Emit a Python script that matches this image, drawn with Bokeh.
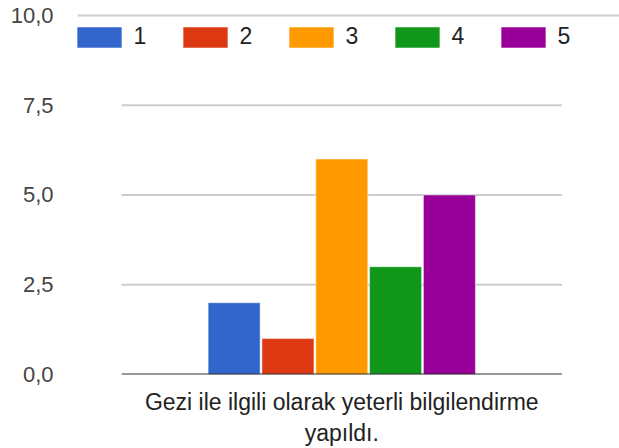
from bokeh.plotting import figure
from bokeh.models import ColumnDataSource, Range1d, FixedTicker, Legend, LegendItem
from bokeh.embed import file_html
from bokeh.resources import INLINE

# ---- data ----
categories = ["1", "2", "3", "4", "5"]
counts = [2, 1, 6, 3, 5]
colors = ["#3366CC", "#DC3912", "#FF9900", "#109618", "#990099"]
y_ticks = [0, 2.5, 5, 7.5, 10]
y_tick_labels = ["0,0", "2,5", "5,0", "7,5", "10,0"]
x_label_lines = ["Gezi ile ilgili olarak yeterli bilgilendirme", "yapıldı."]

FONT = "Liberation Sans"

xs = list(range(len(categories)))
center = (xs[0] + xs[-1]) / 2

src = ColumnDataSource(dict(x=xs, top=counts, color=colors, cat=categories))

p = figure(width=619, height=448, output_backend="svg", toolbar_location=None,
           x_range=Range1d(-2.91, 7.16), y_range=Range1d(0, 10.11),
           min_border_left=77, min_border_right=0, min_border_top=11,
           min_border_bottom=72)
p.outline_line_color = None
p.background_fill_color = "white"
p.border_fill_color = "white"

# grid
p.xgrid.visible = False
p.ygrid.ticker = FixedTicker(ticks=[y_ticks[-1]])
p.ygrid.grid_line_color = "#cccccc"
p.ygrid.grid_line_width = 2

inner = [t for t in y_ticks if 0 < t < y_ticks[-1]]
half = 4.09
p.segment(x0=[center - half] * len(inner), x1=[center + half] * len(inner),
          y0=inner, y1=inner, line_color="#cccccc", line_width=2)

r = p.vbar(x="x", top="top", bottom=0, width=0.966, source=src,
           fill_color="color", line_color="white", line_alpha=0.45,
           line_width=1)

p.segment(x0=[center - half], x1=[center + half], y0=[0], y1=[0],
          line_color="#333333", line_width=2)

# x axis: single category label on two lines
xa = p.xaxis[0]
xa.ticker = FixedTicker(ticks=[center])
xa.major_label_overrides = {center: "\n".join(x_label_lines)}
xa.axis_line_color = None
xa.major_tick_line_color = None
xa.minor_tick_line_color = None
xa.major_tick_out = 0
xa.major_tick_in = 0
xa.major_label_standoff = 14
xa.major_label_text_font = FONT
xa.major_label_text_font_size = "23px"
xa.major_label_text_color = "#222222"
xa.major_label_text_line_height = 1.2

# y axis
ya = p.yaxis[0]
ya.ticker = FixedTicker(ticks=y_ticks)
ya.major_label_overrides = {t: l for t, l in zip(y_ticks, y_tick_labels)}
ya.axis_line_color = None
ya.major_tick_line_color = None
ya.minor_tick_line_color = None
ya.major_tick_out = 0
ya.major_tick_in = 0
ya.major_label_standoff = 24
ya.major_label_text_font = FONT
ya.major_label_text_font_size = "22px"
ya.major_label_text_color = "#444444"

# legend
legend = Legend(items=[], location=(-5.6, 324), orientation="horizontal",
                glyph_width=56, glyph_height=26, label_height=26,
                label_width=13, label_standoff=6, spacing=31,
                padding=0, margin=0, border_line_color=None,
                background_fill_alpha=0,
                label_text_font=FONT, label_text_font_size="23px",
                label_text_color="#222222")
legend.items = [LegendItem(label=c, renderers=[r], index=i)
                for i, c in enumerate(categories)]
p.add_layout(legend, "center")

open("out.html", "w").write(file_html(p, INLINE))
